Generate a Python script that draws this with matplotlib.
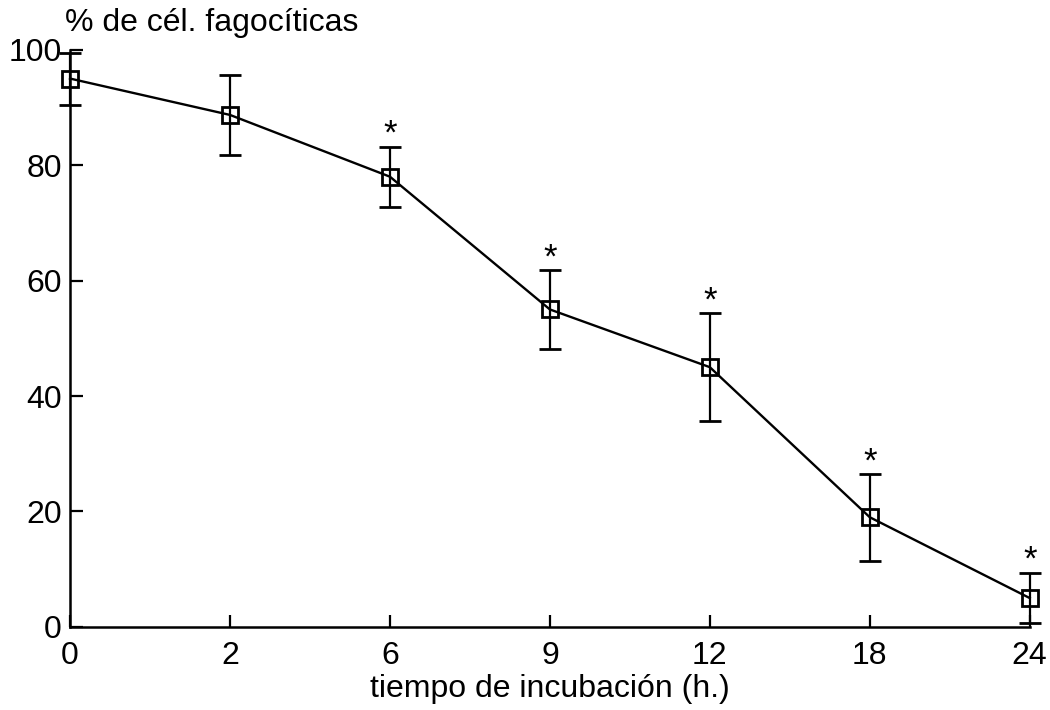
import matplotlib.pyplot as plt

plt.rcParams["font.family"] = ["Liberation Sans", "DejaVu Sans"]

# datos
horas = ["0", "2", "6", "9", "12", "18", "24"]
fagocitosis = [95.0, 88.7, 78.0, 55.0, 45.0, 19.0, 5.0]
error = [4.5, 7.0, 5.2, 6.8, 9.3, 7.5, 4.4]
significativo = [False, False, True, True, True, True, True]

fig = plt.figure(figsize=(10.5, 7.1), dpi=100)
ax = fig.add_axes([0.0667, 0.117, 0.914, 0.813])

pos = list(range(len(horas)))
ax.errorbar(pos, fagocitosis, yerr=error, color="black", linewidth=1.7,
            marker="s", markersize=11, markerfacecolor="none",
            markeredgewidth=2.0, ecolor="black", elinewidth=1.6,
            capsize=8, capthick=1.6, clip_on=False, zorder=3)

for i, (v, e, s) in enumerate(zip(fagocitosis, error, significativo)):
    if s:
        ax.annotate("*", (i, v + e), xytext=(0, -3), textcoords="offset points",
                    ha="center", va="bottom", fontsize=25)

ax.set_xlim(0, len(horas) - 1)
ax.set_ylim(0, 100)
ax.set_xticks(pos)
ax.set_xticklabels(horas)
ax.set_yticks([0, 20, 40, 60, 80, 100])

for side in ("top", "right"):
    ax.spines[side].set_visible(False)
for side in ("left", "bottom"):
    ax.spines[side].set_linewidth(1.8)

ax.tick_params(axis="both", direction="in", length=9, width=1.6,
               labelsize=23)
ax.tick_params(axis="x", pad=10)
ax.tick_params(axis="y", pad=6)
ax.set_xlabel("tiempo de incubación (h.)", fontsize=23, labelpad=2)
fig.text(0.062, 0.968, "% de cél. fagocíticas", fontsize=23,
         ha="left", va="center")

fig.savefig("out.png", dpi=100)
